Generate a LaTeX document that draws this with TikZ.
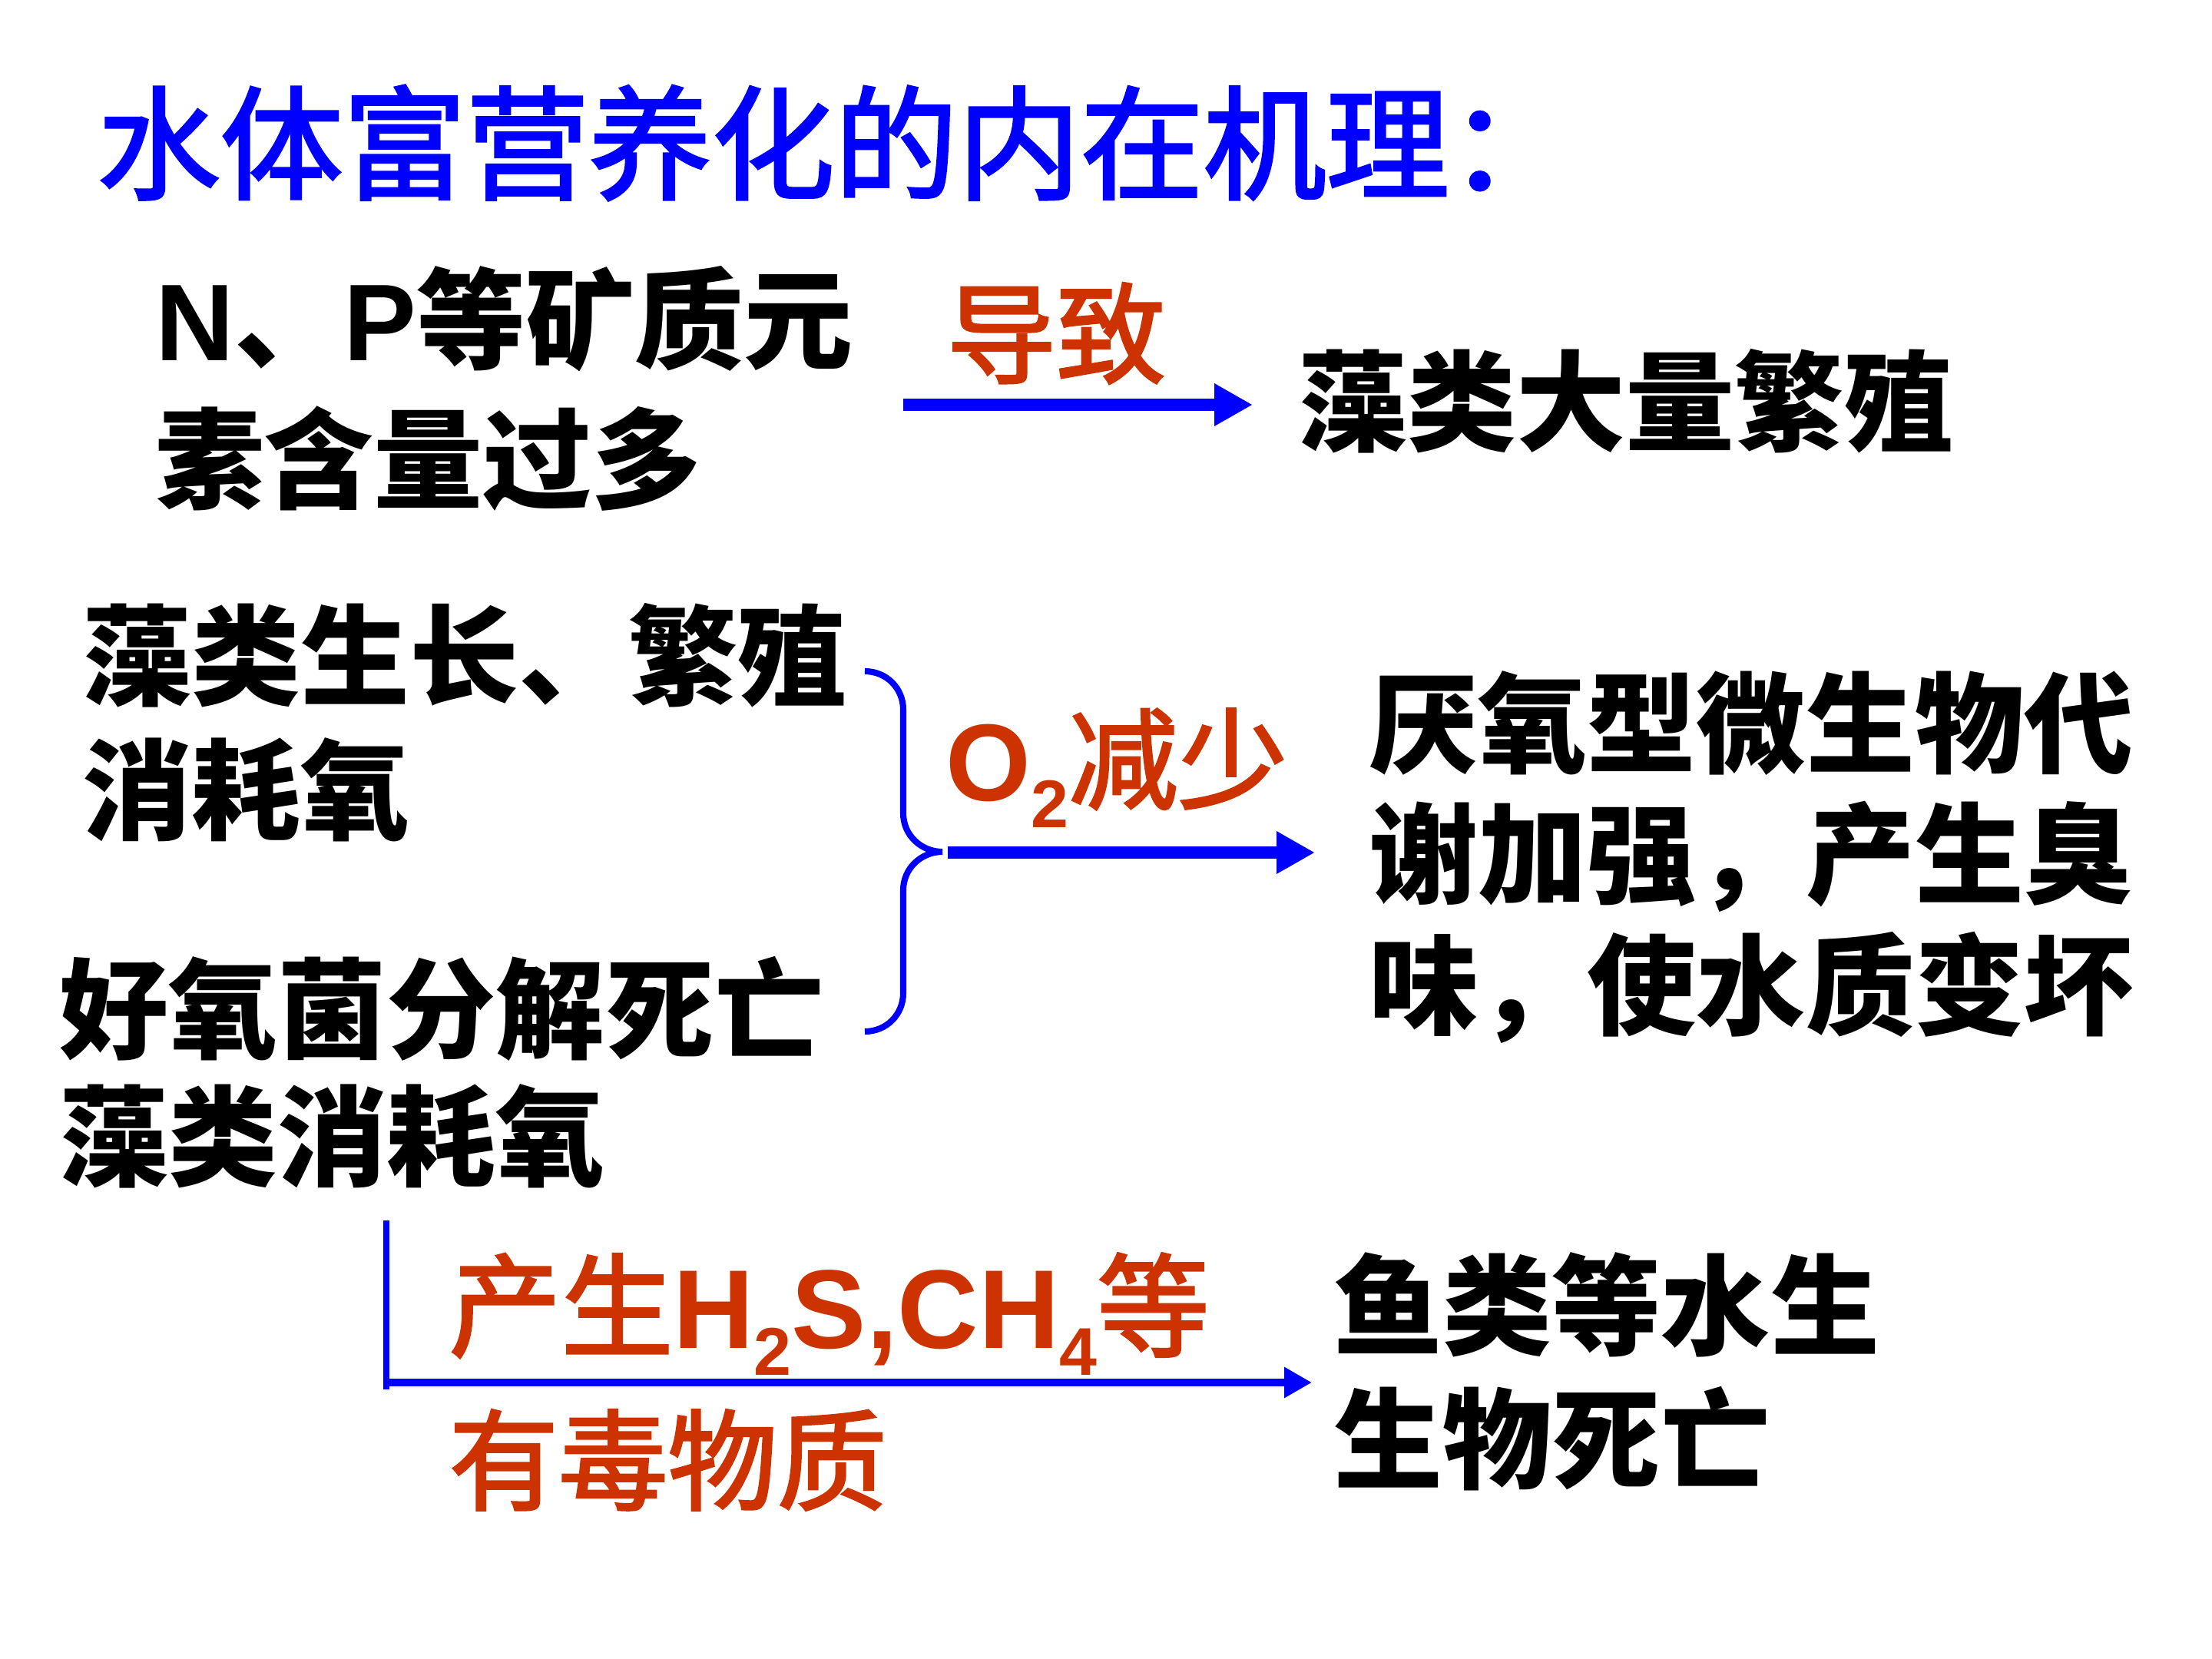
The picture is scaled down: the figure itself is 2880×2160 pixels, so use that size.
\documentclass[tikz,border=0pt]{standalone}
\usepackage{fontspec}
\setmainfont{Liberation Sans}
\newfontfamily\cjk{Noto Sans CJK SC}
\newfontfamily\cjkr[FakeBold=2.2]{Noto Sans CJK SC}
\newfontfamily\lat{Liberation Sans}
\usetikzlibrary{arrows.meta}
\definecolor{tblue}{RGB}{0,0,255}
\definecolor{tred}{RGB}{204,51,0}
\newcommand\latb[1]{{\lat\bfseries #1}}
\newcommand\subdig[1]{\raisebox{-10pt}{\lat\bfseries\fontsize{25pt}{25pt}\selectfont #1}}
\tikzset{
  blk/.style={inner sep=0pt, anchor=west, align=left, text=black},
  redlbl/.style={inner sep=0pt, text=tred},
  conn/.style={draw=tblue, -{Triangle[length=14.2pt,width=14.8pt]}},
  thinconn/.style={draw=tblue, line width=3.1pt, -{Triangle[length=10.2pt,width=10.8pt]}},
}
\begin{document}
\begin{tikzpicture}[x=0.01cm, y=-0.01cm]
\fill[white] (0,0) rectangle (2880,2160);
\useasboundingbox (0,0) rectangle (2880,2160);

% title
\node[inner sep=0pt, anchor=west, text=tblue, font=\cjkr\fontsize{45.5pt}{52pt}\selectfont] (title) at (126,186) {水体富营养化的内在机理：};

% row 1
\node[blk, font=\cjk\bfseries\fontsize{40.4pt}{51.8pt}\selectfont] (np) at (202,506) {\latb{N}、\latb{P}等矿质元\\素含量过多};
\node[redlbl, anchor=west, font=\cjkr\fontsize{40.5pt}{48pt}\selectfont] (dz) at (1232,434) {导致};
\node[blk, font=\cjk\bfseries\fontsize{40.4pt}{48pt}\selectfont] (alg) at (1690,522) {藻类大量繁殖};
\coordinate (a1s) at (1176,527);
\coordinate (a1e) at (1631,527);
\draw[conn, line width=4.55pt] (a1s) -- (a1e);

% row 2
\node[blk, font=\cjk\bfseries\fontsize{40.4pt}{49.8pt}\selectfont] (g1) at (107,941) {藻类生长、繁殖\\消耗氧};
\node[blk, font=\cjk\bfseries\fontsize{40.4pt}{47.2pt}\selectfont] (g2) at (77,1396) {好氧菌分解死亡\\藻类消耗氧};
\node[redlbl, anchor=base west, font=\cjkr\fontsize{40.5pt}{48pt}\selectfont] (o2) at (1231,1042) {\latb{O}\subdig{2}减少};
\node[blk, font=\cjk\bfseries\fontsize{40.4pt}{48.4pt}\selectfont] (res) at (1782,1116) {厌氧型微生物代\\谢加强，产生臭\\味，使水质变坏};

\coordinate (bt) at (1126,874);
\coordinate (tip) at (1227,1109);
\coordinate (bb) at (1126,1343);
\draw[tblue, line width=2.3pt] (bt) .. controls (1154,874) and (1176,896) .. (1176,924)
  -- (1176,1059) .. controls (1176,1087) and (1199,1109) .. (tip)
  .. controls (1199,1109) and (1176,1131) .. (1176,1159)
  -- (1176,1293) .. controls (1176,1321) and (1154,1343) .. (bb);
\coordinate (a2s) at (1234,1110);
\coordinate (a2e) at (1712,1110);
\draw[conn, line width=4.3pt] (a2s) -- (a2e);

% row 3
\coordinate (vt) at (503,1589);
\coordinate (vb) at (503,1809);
\draw[tblue, line width=2pt] (vt) -- (vb);
\coordinate (a3s) at (501,1800);
\coordinate (a3e) at (1708,1800);
\draw[thinconn] (a3s) -- (a3e);
\node[redlbl, anchor=base west, font=\cjkr\fontsize{41.5pt}{48pt}\selectfont] (gas) at (584,1755) {产生\latb{H}\subdig{2}\latb{S,CH}\subdig{4}等};
\node[redlbl, anchor=west, font=\cjkr\fontsize{40.5pt}{48pt}\selectfont] (tox) at (584,1901) {有毒物质};
\node[blk, font=\cjk\bfseries\fontsize{40.4pt}{49.5pt}\selectfont] (fish) at (1736,1786) {鱼类等水生\\生物死亡};
\end{tikzpicture}
\end{document}
